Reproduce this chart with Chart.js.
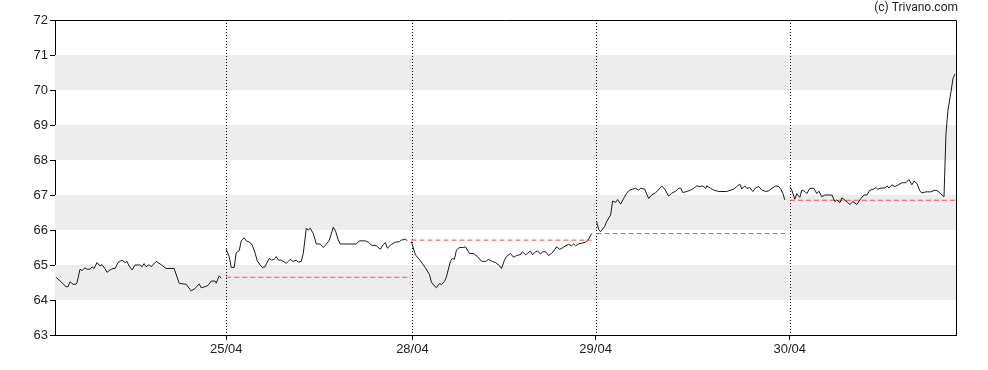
<!DOCTYPE html>
<html>
<head>
<meta charset="utf-8">
<script src="https://cdn.jsdelivr.net/npm/chart.js@4"></script>
<style>
  html, body { margin: 0; padding: 0; background: #fff; }
  #wrap { width: 988px; height: 370px; }
</style>
</head>
<body>
<div id="wrap"><canvas id="priceChart" width="988" height="370"></canvas></div>
<script>
// intraday prices, x = session time index
const day0T = [1,6,11,13,15,18,21,22,25,27,30,32,35,37,39,42,45,47,50,52,55,58,60,63,67,70,72,74,77,80,83,85,87,89,91,94,96,101,106,111,116,119,124,128,131,136,140,144,146,150,153,156,160,161,164,166];
const day0P = [64.65,64.52,64.38,64.38,64.52,64.45,64.45,64.5,64.88,64.84,64.92,64.88,64.88,64.95,64.9,65.07,64.97,65.01,64.89,64.79,64.86,64.9,64.9,65.07,65.14,65.07,65.1,64.97,64.86,65.0,65.0,65.0,64.95,65.04,64.95,65.01,64.95,65.1,65.01,64.9,64.9,64.9,64.48,64.46,64.45,64.26,64.33,64.46,64.35,64.38,64.42,64.54,64.54,64.48,64.69,64.62];

const day1T = [171,174,176,179,181,184,186,189,191,195,197,200,202,205,207,210,211,214,216,219,221,223,226,231,233,235,238,241,243,246,248,251,253,255,258,261,265,268,271,274,278,280,283,285,291,301,304,310,313,316,321,325,328,330,332,336,340,344,346,350,352];
const day1P = [65.45,65.24,64.93,64.93,65.35,65.41,65.69,65.78,65.69,65.64,65.57,65.33,65.12,65.0,64.93,64.95,65.02,65.19,65.14,65.16,65.24,65.14,65.14,65.05,65.1,65.16,65.1,65.14,65.08,65.1,65.33,66.05,66.0,66.05,65.9,65.6,65.6,65.5,65.59,65.71,66.08,65.99,65.71,65.6,65.6,65.6,65.69,65.69,65.65,65.57,65.55,65.45,65.59,65.64,65.48,65.59,65.65,65.67,65.71,65.74,65.69];

const day2T = [356,360,365,370,374,376,379,381,384,386,389,391,395,397,399,401,404,408,410,414,418,422,426,430,433,437,440,444,446,449,451,455,458,461,465,467,470,472,475,477,480,482,485,487,490,493,496,499,501,504,506,510,513,516,518,520,523,526,530,533,536];
const day2P = [65.67,65.29,65.12,64.92,64.73,64.51,64.4,64.35,64.47,64.44,64.53,64.66,65.11,65.19,65.16,65.43,65.5,65.5,65.52,65.33,65.33,65.24,65.11,65.1,65.16,65.1,65.07,64.98,64.9,65.14,65.24,65.33,65.22,65.27,65.3,65.38,65.29,65.33,65.4,65.29,65.38,65.4,65.31,65.38,65.38,65.27,65.33,65.43,65.52,65.45,65.47,65.55,65.59,65.55,65.6,65.55,65.6,65.62,65.65,65.74,65.9];

const day3T = [541,543,545,549,551,555,557,560,562,565,568,571,574,577,580,583,585,589,593,596,600,602,606,609,613,616,620,623,625,627,631,635,638,641,644,647,650,651,655,658,663,671,675,678,681,684,686,689,691,694,697,700,703,706,710,713,716,720,723,725,727,729];
const day3P = [66.24,66.02,65.95,66.1,66.24,66.43,66.83,66.79,66.87,66.74,66.9,67.05,67.14,67.17,67.19,67.14,67.19,67.17,66.9,67.0,67.07,67.12,67.26,67.17,66.97,67.05,67.11,67.19,67.2,67.07,67.1,67.14,67.19,67.26,67.24,67.26,67.19,67.26,67.19,67.14,67.1,67.1,67.14,67.17,67.24,67.31,67.17,67.26,67.19,67.21,67.1,67.21,67.24,67.14,67.1,67.12,67.19,67.26,67.24,67.17,67.05,66.86];

const day4T = [734,736,739,741,744,746,749,751,754,758,761,763,766,769,776,779,781,784,786,790,794,797,801,805,808,811,814,817,820,822,825,829,831,833,836,839,843,846,850,853,856,858,861,864,866,870,875,879,882,885,888,890,892,895,897,899];
const day4P = [67.24,67.14,66.88,67.04,66.93,67.14,67.1,67.04,67.19,67.19,67.04,67.11,66.95,67.0,67.0,66.81,66.86,66.78,66.92,66.83,66.73,66.81,66.73,66.9,67.0,67.0,67.14,67.16,67.21,67.16,67.2,67.2,67.26,67.2,67.29,67.24,67.3,67.35,67.35,67.44,67.29,67.4,67.33,67.11,67.06,67.09,67.09,67.14,67.11,67.03,66.95,68.76,69.43,69.95,70.33,70.46];

// previous close reference for days 1..4
const prevClose = [64.65, 65.71, 65.9, 66.85];

// day separators / x tick labels
const dayTicks = [171, 357, 540, 734];
const dayLabels = ['25/04', '28/04', '29/04', '30/04'];

// y axis
const yMin = 63, yMax = 72;
const shadedBands = [[64, 65], [66, 67], [68, 69], [70, 71]];

const xMax = 900;

const days = [[day0T, day0P], [day1T, day1P], [day2T, day2P], [day3T, day3P], [day4T, day4P]];

const datasets = [];
days.forEach(([t, p]) => {
  datasets.push({
    data: t.map((x, i) => ({ x: x, y: p[i] })),
    borderColor: '#1a1a1a',
    borderWidth: 1,
    pointRadius: 0,
    tension: 0,
    order: 1,
  });
});
prevClose.forEach((v, i) => {
  const t = days[i + 1][0];
  const end = i === prevClose.length - 1 ? xMax : t[t.length - 1];
  datasets.push({
    data: [{ x: t[0], y: v }, { x: end, y: v }],
    borderColor: '#ff4a4a',
    borderWidth: 1,
    borderDash: [5, 3],
    pointRadius: 0,
    order: 2,
  });
});

// gray bands, dotted day lines, frame and copyright
const decorations = {
  id: 'decorations',
  beforeDatasetsDraw(chart) {
    const { ctx, chartArea: a, scales: { x, y } } = chart;
    ctx.save();
    ctx.fillStyle = '#ededed';
    shadedBands.forEach(([lo, hi]) => {
      const y1 = y.getPixelForValue(hi), y2 = y.getPixelForValue(lo);
      ctx.fillRect(a.left, y1, a.right - a.left, y2 - y1);
    });
    ctx.strokeStyle = '#000';
    ctx.lineWidth = 1;
    ctx.setLineDash([1, 2]);
    dayTicks.forEach(v => {
      const px = Math.round(x.getPixelForValue(v)) + 0.5;
      ctx.beginPath();
      ctx.moveTo(px, a.top);
      ctx.lineTo(px, a.bottom);
      ctx.stroke();
    });
    ctx.restore();
  },
  afterDraw(chart) {
    const { ctx, chartArea: a } = chart;
    ctx.save();
    ctx.strokeStyle = '#000';
    ctx.lineWidth = 1;
    ctx.beginPath();
    ctx.moveTo(a.left, a.top + 0.5);
    ctx.lineTo(a.right + 0.5, a.top + 0.5);
    ctx.lineTo(a.right + 0.5, a.bottom);
    ctx.stroke();
    ctx.fillStyle = '#222';
    ctx.font = '12px Roboto';
    ctx.textAlign = 'right';
    ctx.textBaseline = 'middle';
    ctx.fillText('(c) Trivano.com', a.right + 2, 8);
    ctx.restore();
  }
};

const tickFont = { family: "'Liberation Sans', Arial, sans-serif", size: 13 };

new Chart(document.getElementById('priceChart').getContext('2d'), {
  type: 'line',
  data: { datasets: datasets },
  plugins: [decorations],
  options: {
    responsive: false,
    animation: false,
    layout: { padding: { top: 20, right: 32, left: 0, bottom: 0 } },
    plugins: { legend: { display: false }, tooltip: { enabled: false } },
    scales: {
      x: {
        type: 'linear',
        min: 0,
        max: xMax,
        afterBuildTicks: (scale) => { scale.ticks = dayTicks.map(v => ({ value: v })); },
        afterFit: (scale) => { scale.height = 35; },
        ticks: {
          autoSkip: false,
          maxRotation: 0,
          padding: 2,
          color: '#222',
          font: tickFont,
          callback: (value) => dayLabels[dayTicks.indexOf(value)],
        },
        grid: { drawOnChartArea: false, drawTicks: true, tickLength: 5, color: '#000' },
        border: { display: true, color: '#000' },
      },
      y: {
        min: yMin,
        max: yMax,
        afterFit: (scale) => { scale.width = 55; },
        ticks: { stepSize: 1, padding: 2, color: '#222', font: tickFont },
        grid: { drawOnChartArea: false, drawTicks: true, tickLength: 5, color: '#000' },
        border: { display: true, color: '#000' },
      },
    },
  },
});
</script>
</body>
</html>
